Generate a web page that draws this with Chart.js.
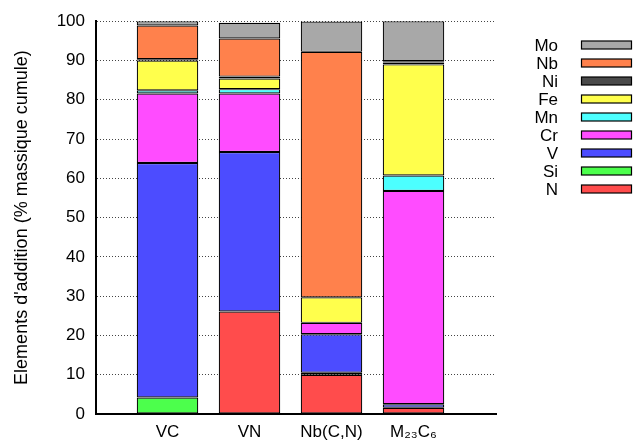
<!DOCTYPE html>
<html>
<head>
<meta charset="utf-8">
<script src="https://cdn.jsdelivr.net/npm/chart.js@4"></script>
<style>
  body { margin: 0; background: #fff; }
  #wrap { width: 633px; height: 448px; position: relative; }
</style>
</head>
<body>
<div id="wrap"><canvas id="chart"></canvas></div>
<script>
// stacked composition of precipitates (% massique cumule)
const categories = ['VC', 'VN', 'Nb(C,N)', 'M₂₃C₆'];
const elements = ['N', 'Si', 'V', 'Cr', 'Mn', 'Fe', 'Ni', 'Nb', 'Mo'];

const N  = [0,    26.1, 10.0, 1.6];
const Si = [4.2,  0,    0.5,  0];
const V  = [59.7, 40.6, 9.8,  0.9];
const Cr = [17.7, 14.9, 2.9,  54.3];
const Mn = [0.8,  1.1,  0,    3.9];
const Fe = [7.6,  2.7,  6.5,  28.3];
const Ni = [0.3,  0.5,  0,    0.5];
const Nb = [8.6,  9.7,  62.5, 0.3];
const Mo = [1.1,  4.0,  7.7,  10.2];

const yTicks = [0, 10, 20, 30, 40, 50, 60, 70, 80, 90, 100];

const series = { N, Si, V, Cr, Mn, Fe, Ni, Nb, Mo };
const colors = {
  N: '#ff4c4c', Si: '#4cff4c', V: '#4c4cff', Cr: '#ff4cff', Mn: '#4cffff',
  Fe: '#ffff4c', Ni: '#4a4a4a', Nb: '#ff814c', Mo: '#a8a8a8'
};

const FONT = 'Liberation Sans, Arial, sans-serif';

// legend on the right: label right-aligned, wide box after it
const sideLegend = {
  id: 'sideLegend',
  afterDraw(chart) {
    const ctx = chart.ctx;
    const sets = chart.data.datasets.slice().reverse();
    ctx.save();
    ctx.font = '17px ' + FONT;
    ctx.textAlign = 'right';
    ctx.textBaseline = 'middle';
    sets.forEach((ds, i) => {
      const y = 45 + i * 18;
      ctx.fillStyle = '#000';
      ctx.fillText(ds.label, 558, y + 1);
      ctx.fillStyle = ds.backgroundColor;
      ctx.fillRect(581.5, y - 4, 50, 8);
      ctx.strokeStyle = '#000';
      ctx.lineWidth = 1.2;
      ctx.strokeRect(581.5, y - 4, 50, 8);
    });
    ctx.restore();
  }
};

new Chart(document.getElementById('chart'), {
  type: 'bar',
  data: {
    datasets: elements.map(el => ({
      label: el,
      data: series[el].map((v, i) => ({ x: i + 1, y: v })),
      backgroundColor: colors[el],
      borderColor: '#000',
      borderWidth: 1.2,
      borderSkipped: false,
      barPercentage: 0.75,
      categoryPercentage: 1
    }))
  },
  options: {
    responsive: true,
    maintainAspectRatio: false,
    animation: false,
    layout: { padding: { top: 18, right: 137, bottom: 0, left: 0 } },
    plugins: {
      legend: { display: false },
      tooltip: { enabled: false }
    },
    scales: {
      x: {
        type: 'linear',
        stacked: true,
        offset: false,
        min: 0.128,
        max: 5.006,
        afterBuildTicks: axis => { axis.ticks = categories.map((_, i) => ({ value: i + 1 })); },
        afterFit: axis => { axis.height = 34; },
        grid: { display: false, drawTicks: false, offset: false },
        border: { display: true, color: '#000', width: 2 },
        ticks: {
          autoSkip: false,
          maxRotation: 0,
          padding: 8,
          color: '#000',
          font: { family: FONT, size: 17 },
          callback: v => categories[v - 1] || ''
        }
      },
      y: {
        stacked: true,
        min: 0,
        max: 100,
        afterBuildTicks: axis => { axis.ticks = yTicks.map(v => ({ value: v })); },
        afterFit: axis => { axis.width = 96; },
        grid: { color: '#444', lineWidth: 1, drawTicks: false },
        border: { display: true, color: '#000', width: 2, dash: [1, 2] },
        ticks: {
          padding: 11,
          color: '#000',
          font: { family: FONT, size: 17 }
        },
        title: {
          display: true,
          text: "Elements d'addition (% massique cumule)",
          color: '#000',
          font: { family: FONT, size: 18 },
          padding: { top: 11, bottom: 0 }
        }
      }
    }
  },
  plugins: [sideLegend]
});
</script>
</body>
</html>
